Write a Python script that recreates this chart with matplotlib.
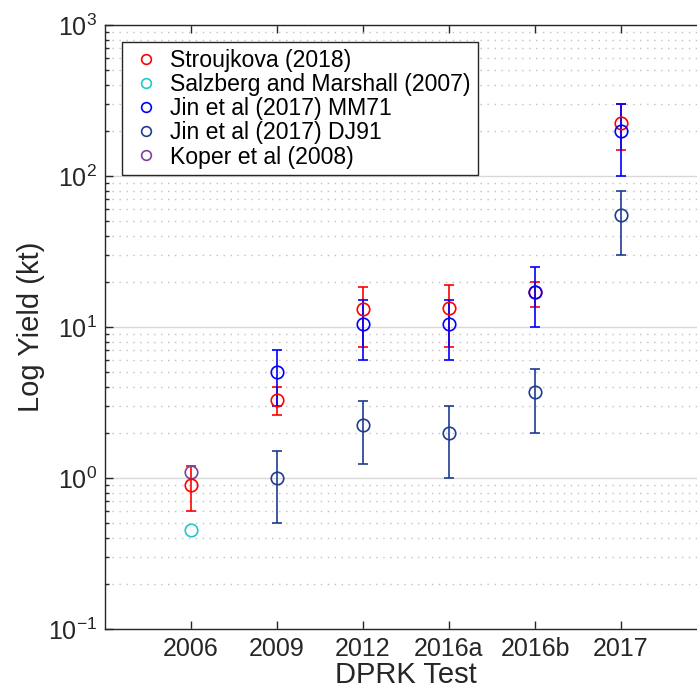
import matplotlib.pyplot as plt
from matplotlib.lines import Line2D
import numpy as np

plt.rcParams['font.family'] = ['Liberation Sans', 'DejaVu Sans']
plt.rcParams['axes.unicode_minus'] = False

tests = ['2006', '2009', '2012', '2016a', '2016b', '2017']

# Stroujkova (2018)
strj_x = [1, 2, 3, 4, 5, 6]
strj_y = [0.9, 3.3, 13.2, 13.4, 17.0, 224]
strj_lo = [0.6, 2.6, 7.4, 7.4, 13.5, 149]
strj_hi = [1.2, 4.0, 18.4, 19.0, 20.0, 300]

# Salzberg and Marshall (2007)
salz_x = [1]
salz_y = [0.45]

# Jin et al (2017) MM71
mm71_x = [2, 3, 4, 5, 6]
mm71_y = [5.0, 10.5, 10.5, 17.0, 200]
mm71_lo = [3.0, 6.0, 6.0, 10.0, 100]
mm71_hi = [7.0, 15.0, 15.0, 25.0, 300]

# Jin et al (2017) DJ91
dj91_x = [2, 3, 4, 5, 6]
dj91_y = [1.0, 2.24, 2.0, 3.7, 55]
dj91_lo = [0.5, 1.24, 1.0, 2.0, 30]
dj91_hi = [1.5, 3.24, 3.0, 5.3, 80]

# Koper et al (2008)
koper_x = [1]
koper_y = [1.1]

c_strj = '#ff0000'
c_salz = '#20c8c8'
c_mm71 = '#0000ff'
c_dj91 = '#203c90'
c_koper = '#8040a0'

fig = plt.figure(figsize=(6.97, 6.92), dpi=100)
ax = fig.add_axes([105 / 697, 63 / 692, 602 / 697, 604 / 692])

ms = 9
cap = 3.4


def err(y, lo, hi):
    y = np.array(y)
    return [y - np.array(lo), np.array(hi) - y]


ax.errorbar(strj_x, strj_y, yerr=err(strj_y, strj_lo, strj_hi), fmt='o', color=c_strj,
            mfc='none', ms=ms, capsize=cap, lw=1.2, mew=1.2)
ax.plot(salz_x, salz_y, 'o', color=c_salz, mfc='none', ms=ms, mew=1.2)
ax.errorbar(mm71_x, mm71_y, yerr=err(mm71_y, mm71_lo, mm71_hi), fmt='o', color=c_mm71,
            mfc='none', ms=ms, capsize=cap, lw=1.2, mew=1.2)
ax.errorbar(dj91_x, dj91_y, yerr=err(dj91_y, dj91_lo, dj91_hi), fmt='o', color=c_dj91,
            mfc='none', ms=ms, capsize=cap, lw=1.2, mew=1.2)
ax.plot(koper_x, koper_y, 'o', color=c_koper, mfc='none', ms=ms, mew=1.2)

ax.set_yscale('log')
ax.set_ylim(0.1, 1000)
ax.set_xlim(0, 7)
ax.set_xticks(range(1, 7))
ax.set_xticklabels(tests)

ax.grid(True, which='major', axis='y', color='#d8d8d8', lw=1.0, ls='-')
ax.grid(True, which='minor', axis='y', color='#c0c0c0', lw=1.0, ls=(0, (1, 4)))
ax.set_axisbelow(True)

ax.tick_params(which='both', direction='in', top=True, right=False, labelsize=18,
               colors='#262626', width=1.0, pad=6)
ax.tick_params(which='major', length=6)
ax.tick_params(which='minor', length=3)
ax.tick_params(axis='x', which='minor', top=False, bottom=False)
for s in ax.spines.values():
    s.set_color('#262626')
    s.set_linewidth(1.0)
ax.spines['right'].set_visible(False)

ax.set_xlabel('DPRK Test', fontsize=21, color='#262626', labelpad=0)
ax.set_ylabel('Log Yield (kt)', fontsize=21, color='#262626', labelpad=2)

labels = ['Stroujkova (2018)', 'Salzberg and Marshall (2007)', 'Jin et al (2017) MM71',
          'Jin et al (2017) DJ91', 'Koper et al (2008)']
colors = [c_strj, c_salz, c_mm71, c_dj91, c_koper]
handles = [Line2D([], [], ls='none', marker='o', color=c, mfc='none', ms=7, mew=1.2)
           for c in colors]
leg = ax.legend(handles, labels, loc='upper left', bbox_to_anchor=(17 / 602, 1 - 17 / 604),
                fontsize=16.6, frameon=True, fancybox=False, edgecolor='#262626',
                framealpha=1, handletextpad=0.3, borderpad=0.3, labelspacing=0.05,
                handlelength=1.5, borderaxespad=0)
leg.get_frame().set_linewidth(1.0)

fig.savefig('out.png', dpi=100)
